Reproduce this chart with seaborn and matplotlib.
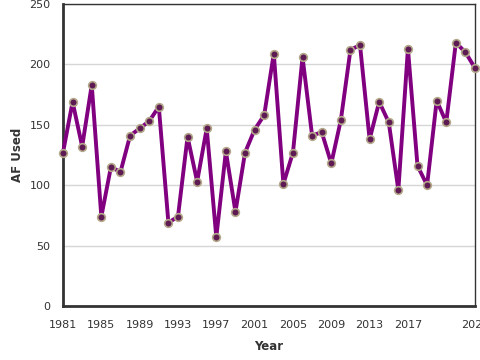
import pandas as pd
import matplotlib
matplotlib.use("Agg")
import matplotlib.pyplot as plt
import seaborn as sns

years = list(range(1981, 2025))
af_used = [127, 169, 132, 183, 74, 115, 111, 141, 147, 153,
           165, 69, 74, 140, 103, 147, 57, 128, 78, 127,
           146, 158, 209, 101, 127, 206, 141, 144, 118, 154,
           212, 216, 138, 169, 152, 96, 213, 116, 100, 170,
           152, 218, 210, 197]
x_ticks = [1981, 1985, 1989, 1993, 1997, 2001, 2005, 2009, 2013, 2017, 2021, 2024]
x_tick_labels = ["1981", "1985", "1989", "1993", "1997", "2001", "2005",
                 "2009", "2013", "2017", "", "2024"]
y_ticks = [0, 50, 100, 150, 200, 250]

df = pd.DataFrame({"Year": years, "AF Used": af_used})

sns.set_style("white")
plt.rcParams["font.family"] = ["DejaVu Sans"]

fig = plt.figure(figsize=(4.8, 3.6), dpi=100)
ax = fig.add_axes([63 / 480, 1 - 306 / 360, (475 - 63) / 480, (306 - 4) / 360])

sns.lineplot(data=df, x="Year", y="AF Used", ax=ax, color="#800080", linewidth=2.8,
             marker="o", markersize=5.5, markerfacecolor="#5e1a52",
             markeredgecolor="#b3a88a", markeredgewidth=1.2, clip_on=False, zorder=3)

ax.set_xlim(1981, 2024)
ax.set_ylim(0, 250)
ax.set_xticks(x_ticks)
ax.set_xticklabels(x_tick_labels)
ax.set_yticks(y_ticks)
ax.yaxis.grid(True, color="#d6d6d6", linewidth=1)
ax.set_axisbelow(True)

ax.tick_params(axis="both", direction="out", length=6, width=1.5, color="#333333",
               labelsize=8, labelcolor="#333333", pad=3)
ax.tick_params(axis="x", pad=4)
for side in ["left", "bottom"]:
    ax.spines[side].set_linewidth(2)
    ax.spines[side].set_color("#333333")
for side in ["top", "right"]:
    ax.spines[side].set_linewidth(1)
    ax.spines[side].set_color("#333333")

ax.set_xlabel("Year", fontsize=8.5, fontweight="bold", color="#333333", labelpad=7)
ax.set_ylabel("AF Used", fontsize=8.5, fontweight="bold", color="#333333", labelpad=4)

plt.savefig("out.png", dpi=100)
